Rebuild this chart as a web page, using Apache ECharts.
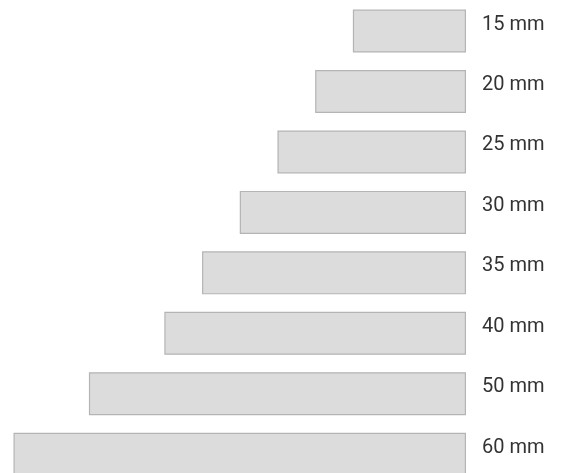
<!DOCTYPE html>
<html>
<head>
<meta charset="utf-8">
<script src="https://cdn.jsdelivr.net/npm/echarts@6/dist/echarts.min.js"></script>
<style>
html,body{margin:0;padding:0;background:#fff;}
#chart{width:561px;height:473px;}
</style>
</head>
<body>
<div id="chart"></div>
<script>
var categories = ['15 mm', '20 mm', '25 mm', '30 mm', '35 mm', '40 mm', '50 mm', '60 mm'];
var values = [15, 20, 25, 30, 35, 40, 50, 60];

var chart = echarts.init(document.getElementById('chart'), null, {renderer: 'canvas'});
chart.setOption({
  animation: false,
  backgroundColor: '#ffffff',
  grid: {left: 13.5, right: 95, top: 0.8, height: 483.6, containLabel: false, outerBoundsMode: 'none'},
  xAxis: {
    type: 'value', inverse: true, min: 0, max: 60,
    show: false
  },
  yAxis: {
    type: 'category', data: categories, inverse: true, position: 'right',
    axisLine: {show: false}, axisTick: {show: false}, splitLine: {show: false},
    axisLabel: {
      margin: 16, align: 'left', verticalAlign: 'bottom', lineHeight: 13,
      fontFamily: 'Roboto', fontSize: 20, color: '#333333'
    }
  },
  series: [{
    type: 'bar', data: values, barWidth: 43,
    itemStyle: {color: '#dcdcdd', borderColor: '#b4b4b4', borderWidth: 1.2}
  }]
});
</script>
</body>
</html>
